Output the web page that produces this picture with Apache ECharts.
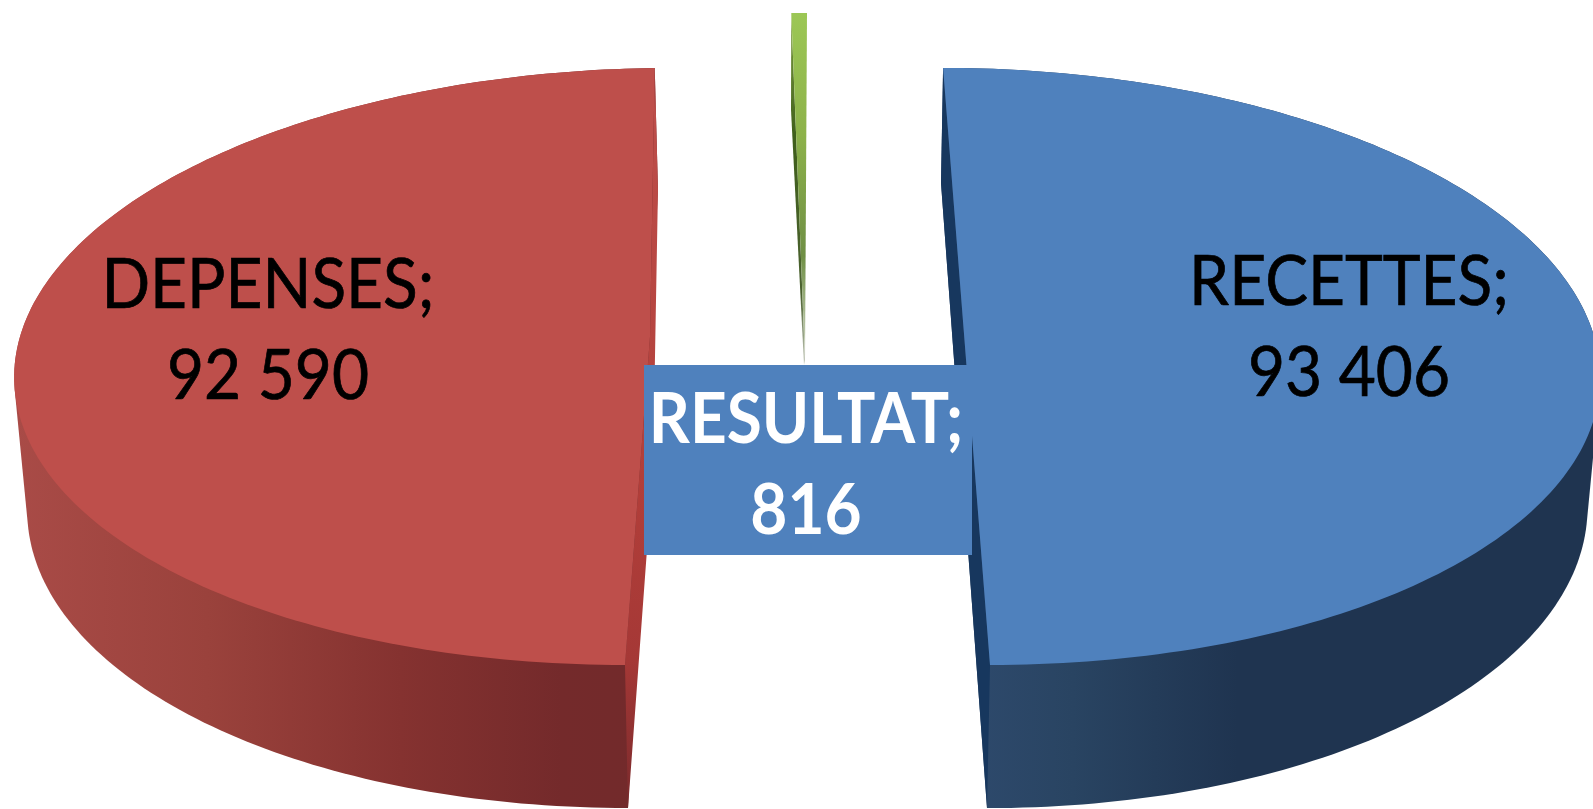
<!DOCTYPE html>
<html>
<head>
<meta charset="utf-8">
<style>html,body{margin:0;padding:0;background:#fff}#c{width:1593px;height:809px}</style>
<script src="https://cdn.jsdelivr.net/npm/echarts@6/dist/echarts.min.js"></script>
</head>
<body>
<div id="c"></div>
<script>
// Data
var categories = ['RECETTES', 'DEPENSES', 'RESULTAT'];
var values = [93406, 92590, 816];

var total = values.reduce(function (a, b) { return a + b; }, 0);
var G = echarts.graphic;
function hGrad(stops) { return new G.LinearGradient(0, 0, 1, 0, stops.map(function (s) { return { offset: s[0], color: s[1] }; })); }
function vGrad(stops) { return new G.LinearGradient(0, 0, 0, 1, stops.map(function (s) { return { offset: s[0], color: s[1] }; })); }

// Perspective projection of each exploded slice's top rim and lower rim
var sliceLayout = [
  { top: { cx: 964.2, cy: 336.6, ux: 630, vx: 73.2, vy: -261.9, w: 0.1 },
    low: { cx: 961.7, cy: 464.3, ux: 620, vx: 73.4, vy: -263, w: 0.1 },
    face: '#4F81BD',
    wall: hGrad([[0, '#2F4B6F'], [0.2, '#294462'], [0.45, '#1F3450'], [1, '#1F3450']]),
    cut: '#17375E',
    label: { x: 1349, y: 327.5, color: '#000', weight: 'normal', stroke: 0.7 } },
  { top: { cx: 650, cy: 336.65, ux: 630, vx: 87.5, vy: -261.85, w: 0.1 },
    low: { cx: 653, cy: 468.1, ux: 620, vx: 87.8, vy: -259.1, w: 0.1 },
    face: '#BE4F4B',
    wall: hGrad([[0, '#A94B47'], [0.3, '#9A423C'], [0.6, '#853230'], [0.85, '#742A2B'], [1, '#722A2B']]),
    cut: vGrad([[0, '#BE4F4B'], [0.55, '#B23F3A'], [0.8, '#A53836'], [1, '#7A2A2C']]),
    label: { x: 268, y: 331, color: '#000', weight: 'normal', stroke: 0.7 } },
  { top: { cx: 805, cy: 360, ux: 630, vx: 82.7, vy: -345.7, w: 0.1 },
    low: { cx: 804, cy: 365, ux: 630, vx: 83.4, vy: -244, w: 0.1 },
    face: vGrad([[0, '#9CC755'], [0.35, '#8DB24A'], [0.7, '#6F8F45'], [1, '#D5DACB']]),
    wall: null,
    cut: vGrad([[0, '#7F9F42'], [0.35, '#3F5F1B'], [0.8, '#4B6130'], [1, '#C8CCC0']]),
    label: { x: 806, y: 466, color: '#fff', weight: 'bold', stroke: 0, box: { x: 644, y: 365, width: 328, height: 190, fill: '#4F81BD' } } }
];

function project(g, a) {
  var x = Math.sin(a), y = Math.cos(a), d = 1 + g.w * y;
  return [(g.cx + g.ux * x + g.vx * y) / d, (g.cy + g.vy * y) / d];
}
function arc(g, a0, a1) {
  var n = Math.max(2, Math.ceil((a1 - a0) / (Math.PI / 180))), pts = [];
  for (var i = 0; i <= n; i++) pts.push(project(g, a0 + (a1 - a0) * i / n));
  return pts;
}
// Silhouette of the rim pair, so the side wall joins both rims along its tangents
function hull(points) {
  var p = points.slice().sort(function (a, b) { return a[0] - b[0] || a[1] - b[1]; });
  function cross(o, a, b) { return (a[0] - o[0]) * (b[1] - o[1]) - (a[1] - o[1]) * (b[0] - o[0]); }
  var lo = [], up = [], i;
  for (i = 0; i < p.length; i++) {
    while (lo.length >= 2 && cross(lo[lo.length - 2], lo[lo.length - 1], p[i]) <= 0) lo.pop();
    lo.push(p[i]);
  }
  for (i = p.length - 1; i >= 0; i--) {
    while (up.length >= 2 && cross(up[up.length - 2], up[up.length - 1], p[i]) <= 0) up.pop();
    up.push(p[i]);
  }
  lo.pop(); up.pop();
  return lo.concat(up);
}
function groupedNumber(v) { return String(v).replace(/\B(?=(\d{3})+$)/g, ' '); }

function renderSlice(params, api) {
  var i = params.dataIndex, L = sliceLayout[i];
  var before = 0;
  for (var k = 0; k < i; k++) before += values[k];
  var a0 = before / total * 2 * Math.PI;
  var a1 = (before + api.value(1)) / total * 2 * Math.PI;
  var children = [];
  var topArc = arc(L.top, a0, a1), lowArc = arc(L.low, a0, a1);
  var cTop = [L.top.cx, L.top.cy], cLow = [L.low.cx, L.low.cy];

  if (L.wall) {
    children.push({ type: 'polygon', shape: { points: hull(lowArc.concat(topArc)) }, style: { fill: L.wall } });
  }
  // exposed cut faces
  var first = topArc[0], last = topArc[topArc.length - 1];
  var lFirst = lowArc[0], lLast = lowArc[lowArc.length - 1];
  var cutPts = i === 2 ? [first, cTop, cLow, lFirst]
                       : [first, cTop, last, lLast, cLow, lFirst];
  children.push({ type: 'polygon', shape: { points: cutPts }, style: { fill: L.cut } });
  // top face
  children.push({ type: 'polygon', shape: { points: [cTop].concat(topArc) }, style: { fill: L.face } });

  var lb = L.label;
  if (lb.box) {
    children.push({ type: 'rect', shape: { x: lb.box.x, y: lb.box.y, width: lb.box.width, height: lb.box.height }, style: { fill: lb.box.fill } });
  }
  children.push({
    type: 'text',
    x: lb.x, y: lb.y, scaleX: 0.97, scaleY: 1.065,
    style: {
      x: 0, y: 0,
      text: categories[i] + ';\n' + groupedNumber(api.value(1)),
      fontFamily: 'Lato', fontSize: 66, fontWeight: lb.weight, lineHeight: 85.5,
      fill: lb.color, stroke: lb.stroke ? lb.color : null, lineWidth: lb.stroke,
      align: 'center', verticalAlign: 'middle'
    }
  });
  return { type: 'group', children: children };
}

var chart = echarts.init(document.getElementById('c'), null, { renderer: 'canvas' });
chart.setOption({
  animation: false,
  backgroundColor: '#fff',
  series: [{
    type: 'custom',
    coordinateSystem: 'none',
    renderItem: renderSlice,
    data: categories.map(function (c, i) { return [i, values[i]]; }),
    silent: true
  }]
});
</script>
</body>
</html>
